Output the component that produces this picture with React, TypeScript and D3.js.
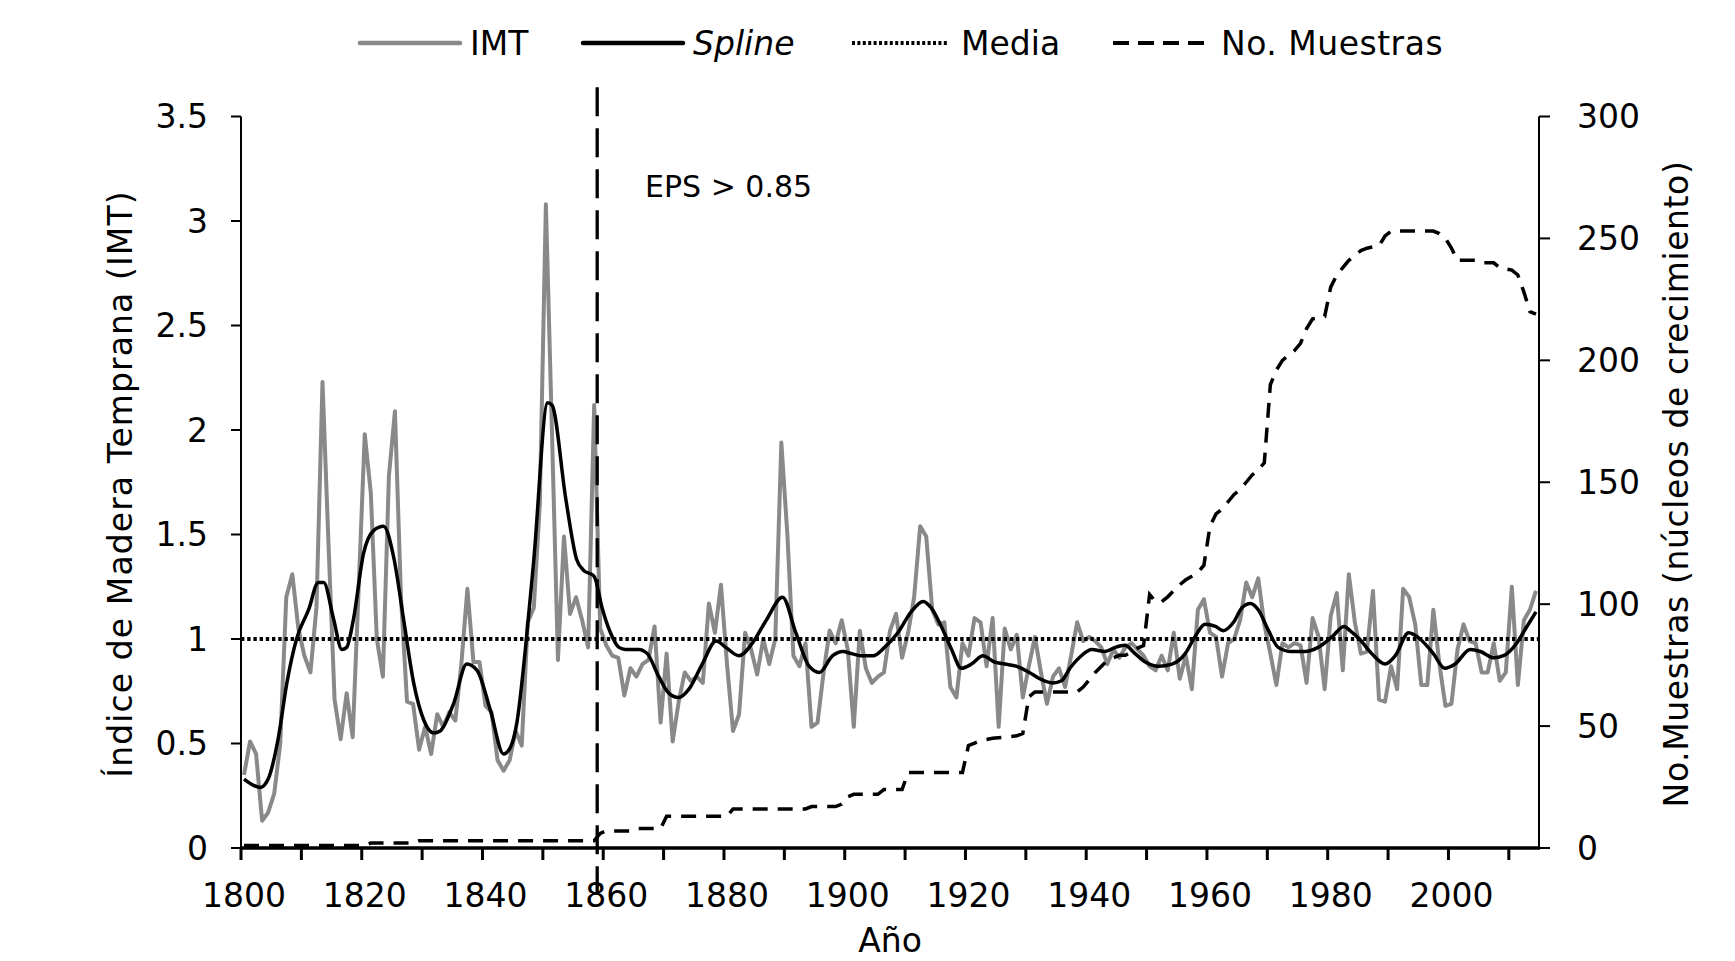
import * as d3 from 'd3';

// Índice de Madera Temprana, one value per year from 1800 to 2014
const imtStartYear = 1800;
const imtValues = [
  0.35, 0.51, 0.45, 0.13, 0.17, 0.26, 0.50, 1.20, 1.31, 1.05, // 1800
  0.92, 0.84, 1.15, 2.23, 1.45, 0.71, 0.52, 0.74, 0.53, 1.25, // 1810
  1.98, 1.70, 1.00, 0.82, 1.78, 2.09, 1.20, 0.70, 0.69, 0.47, // 1820
  0.58, 0.45, 0.64, 0.58, 0.65, 0.61, 0.88, 1.24, 0.89, 0.89, // 1830
  0.68, 0.65, 0.42, 0.37, 0.42, 0.56, 0.49, 1.08, 1.15, 1.65, // 1840
  3.08, 2.00, 0.90, 1.49, 1.12, 1.20, 1.09, 0.96, 2.12, 1.05, // 1850
  0.97, 0.92, 0.91, 0.73, 0.86, 0.82, 0.88, 0.90, 1.06, 0.60, // 1860
  0.93, 0.51, 0.70, 0.84, 0.80, 0.82, 0.79, 1.17, 1.03, 1.26, // 1870
  0.88, 0.56, 0.64, 1.03, 0.95, 0.83, 1.00, 0.88, 1.00, 1.94, // 1880
  1.50, 0.92, 0.87, 0.98, 0.58, 0.60, 0.84, 1.04, 0.98, 1.09, // 1890
  0.95, 0.58, 1.04, 0.86, 0.79, 0.82, 0.84, 1.04, 1.12, 0.91, // 1900
  1.03, 1.20, 1.54, 1.49, 1.14, 1.07, 1.08, 0.77, 0.72, 0.98, // 1910
  0.92, 1.10, 1.08, 0.87, 1.10, 0.58, 1.05, 0.95, 1.02, 0.72, // 1920
  0.87, 1.01, 0.84, 0.69, 0.82, 0.86, 0.77, 0.92, 1.08, 0.99, // 1930
  1.01, 0.99, 0.96, 0.88, 0.95, 0.91, 0.96, 0.98, 0.95, 0.92, // 1940
  0.87, 0.85, 0.92, 0.85, 1.03, 0.81, 0.92, 0.76, 1.14, 1.19, // 1950
  1.03, 1.01, 0.82, 0.98, 1.00, 1.09, 1.27, 1.20, 1.29, 1.07, // 1960
  0.93, 0.78, 0.98, 0.96, 0.98, 0.97, 0.79, 1.10, 1.01, 0.76, // 1970
  1.11, 1.22, 0.85, 1.31, 1.08, 0.93, 0.94, 1.23, 0.71, 0.70, // 1980
  0.87, 0.76, 1.24, 1.20, 1.07, 0.78, 0.78, 1.14, 0.88, 0.68, // 1990
  0.69, 0.95, 1.07, 0.99, 0.98, 0.84, 0.84, 0.98, 0.80, 0.84, // 2000
  1.25, 0.78, 1.09, 1.14, 1.23, // 2010
];

// smoothed spline read at its turning points [year, value]
const splineKnots: [number, number][] = [
  [1800, 0.33], [1802.7, 0.29], [1804, 0.33], [1805.7, 0.53], [1807.1, 0.79],
  [1808.7, 1.0], [1810.7, 1.14], [1812.3, 1.27], [1813.2, 1.27], [1814.8, 1.1],
  [1816.2, 0.95], [1817, 0.96], [1818.1, 1.09], [1819.8, 1.41], [1821.5, 1.52],
  [1823.1, 1.54], [1824.8, 1.39], [1826.4, 1.1], [1828.1, 0.79], [1829.8, 0.61],
  [1831.4, 0.55], [1832.5, 0.56], [1834.7, 0.69], [1836.9, 0.88], [1838.6, 0.85],
  [1840.8, 0.66], [1843, 0.45], [1844.1, 0.48], [1845.2, 0.6], [1846.6, 0.95],
  [1848, 1.38], [1850.3, 2.13], [1851, 2.12], [1853.3, 1.67], [1855.1, 1.38],
  [1856.2, 1.33], [1858, 1.3], [1859.3, 1.15], [1860.7, 1.03], [1862.1, 0.96],
  [1863.2, 0.95], [1865.4, 0.95], [1866.8, 0.93], [1868.7, 0.82], [1870.4, 0.74],
  [1872, 0.72], [1873.7, 0.76], [1875.9, 0.88], [1878.2, 0.99], [1879.8, 0.96],
  [1882, 0.92], [1884.2, 0.98], [1886.5, 1.09], [1889.2, 1.2], [1891.4, 1.03],
  [1893.6, 0.87], [1895.3, 0.84], [1897.5, 0.92], [1899.2, 0.94], [1900.6, 0.93],
  [1902.2, 0.92], [1904.2, 0.92], [1906.1, 0.96], [1908.3, 1.03], [1910.5, 1.13],
  [1912.5, 1.18], [1913.8, 1.15], [1915.5, 1.06], [1917.2, 0.95], [1918.8, 0.86],
  [1920.5, 0.88], [1922.4, 0.92], [1924.3, 0.89], [1926, 0.88], [1927.9, 0.87],
  [1930.1, 0.84], [1931.8, 0.81], [1934, 0.79], [1935.4, 0.8], [1936.8, 0.86],
  [1938.7, 0.92], [1940.4, 0.95], [1942.6, 0.94], [1944.3, 0.96], [1945.9, 0.97],
  [1947.6, 0.93], [1949.3, 0.89], [1951.5, 0.87], [1953.7, 0.88], [1955.9, 0.93],
  [1957.5, 1.01], [1959.2, 1.07], [1960.9, 1.06], [1962.2, 1.04], [1963.9, 1.08],
  [1965.3, 1.15], [1966.7, 1.17], [1968, 1.14], [1969.7, 1.04], [1971.3, 0.96],
  [1973.5, 0.94], [1975.7, 0.94], [1977.9, 0.96], [1980.2, 1.01], [1982.2, 1.06],
  [1983.2, 1.04], [1984.9, 0.995], [1986.8, 0.93], [1989, 0.88], [1990.7, 0.92],
  [1992.9, 1.03], [1994.8, 1.0], [1997, 0.93], [1998.9, 0.86], [2000.6, 0.88],
  [2003.1, 0.95], [2004.8, 0.94], [2007, 0.91], [2008.6, 0.92], [2010.8, 0.98],
  [2012.5, 1.06], [2014, 1.13],
];

// number of growth cores, read at the points where it changes [year, n]
const sampleKnots: [number, number][] = [
  [1800, 1], [1820, 1], [1821, 2], [1828, 2], [1829, 3], [1858, 3], [1859, 6],
  [1860, 7], [1864, 7], [1865, 8], [1869, 8], [1870, 13], [1880, 13], [1881, 16],
  [1893, 16], [1894, 17], [1898, 17], [1899, 18], [1900, 21], [1901, 22], [1905, 22],
  [1906, 24], [1909, 24], [1910, 31], [1919, 31], [1920, 42], [1921, 43], [1922, 44],
  [1924, 45], [1928, 46], [1929, 47], [1930, 62], [1931, 64], [1938, 64], [1939, 66],
  [1941, 72], [1943, 77], [1945, 79], [1946, 79], [1948, 82], [1949, 83], [1950, 104],
  [1951, 101], [1952, 101], [1953, 103], [1955, 108], [1956, 110], [1958, 113],
  [1959, 116], [1960, 132], [1961, 137], [1962, 139], [1963, 142], [1964, 145],
  [1965, 147], [1966, 150], [1967, 153], [1968, 155], [1969, 158], [1970, 190],
  [1971, 196], [1972, 200], [1974, 204], [1975, 207], [1976, 213], [1977, 217],
  [1979, 218], [1980, 230], [1981, 235], [1982, 238], [1983, 241], [1985, 245],
  [1986, 246], [1988, 247], [1989, 251], [1990, 253], [1997, 253], [1998, 252],
  [1999, 250], [2000, 246], [2001, 241], [2004, 241], [2005, 240], [2007, 240],
  [2008, 238], [2010, 237], [2011, 235], [2012, 228], [2013, 220], [2014, 219],
];

const meanValue = 1;
const epsYear = 1859;
const epsLineSpan = [-0.22, 3.64];

const leftTicks = [0, 0.5, 1, 1.5, 2, 2.5, 3, 3.5];
const rightTicks = [0, 50, 100, 150, 200, 250, 300];
const yearTicks = [1800, 1810, 1820, 1830, 1840, 1850, 1860, 1870, 1880, 1890, 1900, 1910, 1920, 1930, 1940, 1950, 1960, 1970, 1980, 1990, 2000, 2010];
const yearLabels = [1800, 1820, 1840, 1860, 1880, 1900, 1920, 1940, 1960, 1980, 2000];

const W = 1735;
const H = 961;
const FONT = "'DejaVu Sans', Verdana, sans-serif";
const GRAY = '#898989';

export default function App() {
  // year boundaries on a category axis; points sit in the middle of each year
  const xB = d3.scaleLinear().domain([1800, 2015]).range([241, 1539]);
  const xC = (yr: number) => xB(yr + 0.5);
  const yL = d3.scaleLinear().domain([0, 3.5]).range([848, 116.5]);
  const yR = d3.scaleLinear().domain([0, 300]).range([848, 116.5]);

  const imtPoints: [number, number][] = imtValues.map((v, i) => [imtStartYear + i, v]);

  const leftLine = d3.line<[number, number]>().x(d => xC(d[0])).y(d => yL(d[1]));
  const splineLine = d3.line<[number, number]>().x(d => xC(d[0])).y(d => yL(d[1])).curve(d3.curveMonotoneX);
  const rightLine = d3.line<[number, number]>().x(d => xC(d[0])).y(d => yR(d[1]));

  const [x0, x1] = xB.range();
  const legendY = 43;

  return (
    <div style={{ position: 'absolute', left: 0, top: 0 }}>
      <svg width={W} height={H} viewBox={`0 0 ${W} ${H}`} style={{ display: 'block', background: '#fff' }} fontFamily={FONT}>
        {/* legend */}
        <g fontSize={33} fill="#000">
          <line x1={360} x2={460} y1={legendY} y2={legendY} stroke={GRAY} strokeWidth={4.5} strokeLinecap="round" />
          <text x={470} y={legendY + 12}>IMT</text>
          <line x1={583} x2={683} y1={legendY} y2={legendY} stroke="#000" strokeWidth={4.5} strokeLinecap="round" />
          <text x={693} y={legendY + 12} fontStyle="italic">Spline</text>
          <line x1={852} x2={949} y1={legendY} y2={legendY} stroke="#000" strokeWidth={4} strokeDasharray="3 2.4" />
          <text x={961} y={legendY + 12}>Media</text>
          <line x1={1113} x2={1208} y1={legendY} y2={legendY} stroke="#000" strokeWidth={4} strokeDasharray="16 9" />
          <text x={1221} y={legendY + 12} letterSpacing={0.5}>No. Muestras</text>
        </g>

        {/* series */}
        <path d={leftLine(imtPoints) ?? ''} fill="none" stroke={GRAY} strokeWidth={4} strokeLinejoin="round" />
        <path d={splineLine(splineKnots) ?? ''} fill="none" stroke="#000" strokeWidth={3.5} strokeLinejoin="round" />
        <line x1={x0} x2={x1} y1={yL(meanValue)} y2={yL(meanValue)} stroke="#000" strokeWidth={3.8} strokeDasharray="3.4 2.8" />
        <path d={rightLine(sampleKnots) ?? ''} fill="none" stroke="#000" strokeWidth={3.5} strokeDasharray="15 10" />
        <line x1={xB(epsYear)} x2={xB(epsYear)} y1={yL(epsLineSpan[1])} y2={yL(epsLineSpan[0])} stroke="#000" strokeWidth={3.3} strokeDasharray="29 12" />
        <text x={645} y={197} fontSize={30}>EPS &gt; 0.85</text>

        {/* left axis */}
        <line x1={x0} x2={x0} y1={yL(0)} y2={yL(3.5)} stroke="#000" strokeWidth={2} />
        {leftTicks.map(t => (
          <g key={`l${t}`}>
            <line x1={x0 - 10} x2={x0} y1={yL(t)} y2={yL(t)} stroke="#000" strokeWidth={2} />
            <text x={208} y={yL(t)} dy="0.36em" textAnchor="end" fontSize={33}>{t}</text>
          </g>
        ))}
        <text transform={`translate(132,484) rotate(-90)`} textAnchor="middle" fontSize={33} letterSpacing={1.1}>
          Índice de Madera Temprana (IMT)
        </text>

        {/* right axis */}
        <line x1={x1} x2={x1} y1={yR(0)} y2={yR(300)} stroke="#000" strokeWidth={2} />
        {rightTicks.map(t => (
          <g key={`r${t}`}>
            <line x1={x1} x2={x1 + 11} y1={yR(t)} y2={yR(t)} stroke="#000" strokeWidth={2} />
            <text x={1577} y={yR(t)} dy="0.36em" textAnchor="start" fontSize={33}>{t}</text>
          </g>
        ))}
        <text transform={`translate(1688,484) rotate(-90)`} textAnchor="middle" fontSize={33} letterSpacing={0.6}>
          No.Muestras (núcleos de crecimiento)
        </text>

        {/* bottom axis */}
        <line x1={x0 - 1} x2={x1 + 1} y1={yL(0)} y2={yL(0)} stroke="#000" strokeWidth={3.5} />
        {yearTicks.map(t => (
          <line key={`b${t}`} x1={xB(t)} x2={xB(t)} y1={yL(0)} y2={yL(0) + 12} stroke="#000" strokeWidth={3} />
        ))}
        {yearLabels.map(t => (
          <text key={`bl${t}`} x={xC(t)} y={907} textAnchor="middle" fontSize={33}>{t}</text>
        ))}
        <text x={890} y={952} textAnchor="middle" fontSize={33}>Año</text>
      </svg>
    </div>
  );
}
